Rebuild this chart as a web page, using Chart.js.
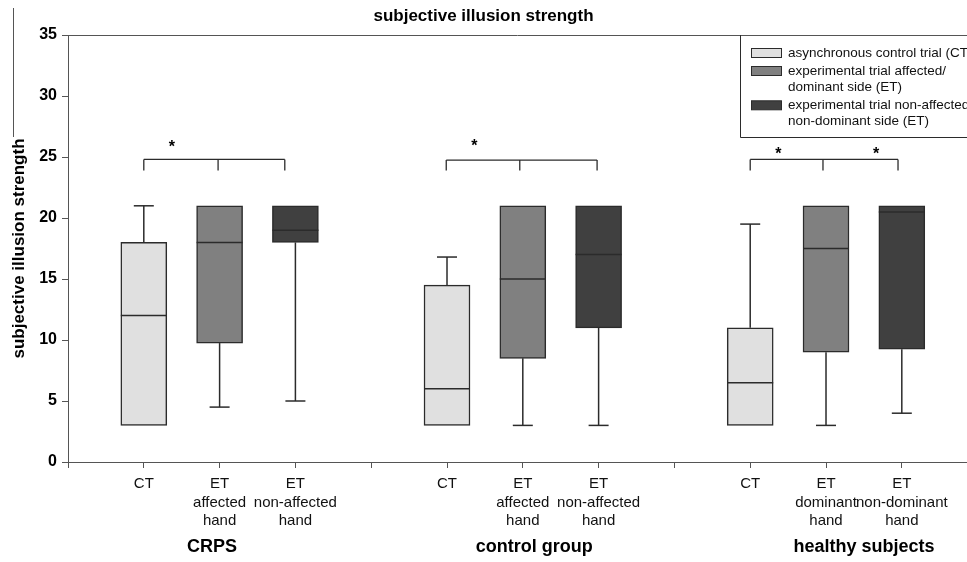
<!DOCTYPE html>
<html>
<head>
<meta charset="utf-8">
<script src="https://cdn.jsdelivr.net/npm/chart.js@4/dist/chart.umd.min.js"></script>
<style>
  html, body { margin: 0; padding: 0; background: #fff; }
  canvas { display: block; }
</style>
</head>
<body>
<canvas id="chart" width="967" height="562"></canvas>
<script>
const chartTitle = 'subjective illusion strength'
const yTitle = 'subjective illusion strength'

// x slots: 1-3 CRPS, 5-7 control group, 9-11 healthy subjects (4 and 8 are gaps)
const tickPositions = [1, 2, 3, 5, 6, 7, 9, 10, 11]
const tickLabels = [
  ['CT'], ['ET', 'affected', 'hand'], ['ET', 'non-affected', 'hand'],
  ['CT'], ['ET', 'affected', 'hand'], ['ET', 'non-affected', 'hand'],
  ['CT'], ['ET', 'dominant', 'hand'], ['ET', 'non-dominant', 'hand'],
]
const groupNames = ['CRPS', 'control group', 'healthy subjects']
const groupCenters = [1.9, 6.15, 10.5]

const seriesNames = [
  ['asynchronous control trial (CT)'],
  ['experimental trial affected/', 'dominant side (ET)'],
  ['experimental trial non-affected/', 'non-dominant side (ET)'],
]
const seriesColors = ['#e0e0e0', '#808080', '#404040']

const ctPos = [1, 5, 9]
const ctMin = [3, 3, 3]
const ctQ1 = [3, 3, 3]
const ctMedian = [12, 6, 6.5]
const ctQ3 = [18, 14.5, 11]
const ctMax = [21, 16.8, 19.5]

const etAffPos = [2, 6, 10]
const etAffMin = [4.5, 3, 3]
const etAffQ1 = [9.75, 8.5, 9]
const etAffMedian = [18, 15, 17.5]
const etAffQ3 = [21, 21, 21]
const etAffMax = [21, 21, 21]

const etNonPos = [3, 7, 11]
const etNonMin = [5, 3, 4]
const etNonQ1 = [18, 11, 9.25]
const etNonMedian = [19, 17, 20.5]
const etNonQ3 = [21, 21, 21]
const etNonMax = [21, 21, 21]

// significance brackets: [left, middle, right] x values, bar level, drop level
const bracketXs = [[1, 1.98, 2.86], [4.99, 5.96, 6.98], [9.0, 9.96, 10.95]]
const bracketLevel = [24.8, 24.75, 24.8]
const bracketDrop = 23.9
const starX = [1.37, 5.36, 9.37, 10.66]
const starY = [26.15, 26.2, 25.55, 25.55]

const series = [
  { pos: ctPos, min: ctMin, q1: ctQ1, med: ctMedian, q3: ctQ3, max: ctMax },
  { pos: etAffPos, min: etAffMin, q1: etAffQ1, med: etAffMedian, q3: etAffQ3, max: etAffMax },
  { pos: etNonPos, min: etNonMin, q1: etNonQ1, med: etNonMedian, q3: etNonQ3, max: etNonMax },
]

const INK = '#2b2b2b'
const AXIS = '#555'
const BOX_W = 46
const CAP_W = 20
const FONT = '"Liberation Sans", Arial, sans-serif'

Chart.defaults.font.family = FONT
Chart.defaults.color = '#000'

const line = (ctx, x1, y1, x2, y2) => {
  ctx.beginPath()
  ctx.moveTo(x1, y1)
  ctx.lineTo(x2, y2)
  ctx.stroke()
}

const boxOverlay = {
  id: 'boxOverlay',
  afterDatasetsDraw(chart) {
    const { ctx, scales: { x, y } } = chart
    ctx.save()
    ctx.strokeStyle = INK
    ctx.lineWidth = 1.5
    series.forEach((s) => {
      s.pos.forEach((p, i) => {
        const cx = x.getPixelForValue(p)
        if (s.max[i] > s.q3[i]) {
          line(ctx, cx, y.getPixelForValue(s.q3[i]), cx, y.getPixelForValue(s.max[i]))
          line(ctx, cx - CAP_W / 2, y.getPixelForValue(s.max[i]), cx + CAP_W / 2, y.getPixelForValue(s.max[i]))
        }
        if (s.min[i] < s.q1[i]) {
          line(ctx, cx, y.getPixelForValue(s.q1[i]), cx, y.getPixelForValue(s.min[i]))
          line(ctx, cx - CAP_W / 2, y.getPixelForValue(s.min[i]), cx + CAP_W / 2, y.getPixelForValue(s.min[i]))
        }
        const my = y.getPixelForValue(s.med[i])
        line(ctx, cx - BOX_W / 2, my, cx + BOX_W / 2, my)
      })
    })

    // significance brackets
    ctx.lineWidth = 1.3
    bracketXs.forEach((xs, i) => {
      const top = y.getPixelForValue(bracketLevel[i])
      const drop = y.getPixelForValue(bracketDrop)
      line(ctx, x.getPixelForValue(xs[0]), top, x.getPixelForValue(xs[2]), top)
      xs.forEach((v) => line(ctx, x.getPixelForValue(v), top, x.getPixelForValue(v), drop))
    })
    ctx.fillStyle = '#000'
    ctx.font = `bold 16px ${FONT}`
    ctx.textAlign = 'center'
    ctx.textBaseline = 'alphabetic'
    starX.forEach((v, i) => {
      ctx.fillText('*', x.getPixelForValue(v), y.getPixelForValue(starY[i]) + 9)
    })
    ctx.restore()
  },
  afterDraw(chart) {
    const { ctx, chartArea, scales: { x } } = chart
    ctx.save()
    // top frame line and the stray figure frame on the left
    ctx.strokeStyle = AXIS
    ctx.lineWidth = 1
    line(ctx, chartArea.left, chartArea.top + 0.5, chartArea.right, chartArea.top + 0.5)
    line(ctx, 13.5, 8, 13.5, 137)

    // group names under the tick labels
    ctx.fillStyle = '#000'
    ctx.font = `bold 18px ${FONT}`
    ctx.textAlign = 'center'
    ctx.textBaseline = 'middle'
    groupNames.forEach((g, i) => ctx.fillText(g, x.getPixelForValue(groupCenters[i]), 547))

    // legend box in the upper right corner
    const lx = 740.5
    const lb = 137.5
    ctx.strokeStyle = INK
    ctx.beginPath()
    ctx.moveTo(lx, chartArea.top)
    ctx.lineTo(lx, lb)
    ctx.lineTo(chart.width + 2, lb)
    ctx.stroke()
    ctx.font = `13.5px ${FONT}`
    ctx.textAlign = 'left'
    let rowY = 53
    seriesNames.forEach((lines, i) => {
      ctx.fillStyle = seriesColors[i]
      ctx.fillRect(751, rowY - 4.5, 30, 9)
      ctx.lineWidth = 1
      ctx.strokeRect(751.5, rowY - 4.5, 30, 9)
      ctx.fillStyle = '#111'
      lines.forEach((t) => {
        ctx.fillText(t, 788, rowY)
        rowY += 16.3
      })
      rowY += 1.7
    })
    ctx.restore()
  },
}

new Chart(document.getElementById('chart'), {
  type: 'bar',
  data: {
    datasets: series.map((s, k) => ({
      label: seriesNames[k].join(' '),
      data: s.pos.map((p, i) => ({ x: p, y: [s.q1[i], s.q3[i]] })),
      backgroundColor: seriesColors[k],
      borderColor: INK,
      borderWidth: 1.5,
      borderSkipped: false,
      barThickness: BOX_W,
      grouped: false,
    })),
  },
  options: {
    responsive: false,
    animation: false,
    events: [],
    layout: { padding: 0 },
    plugins: {
      legend: { display: false },
      tooltip: { enabled: false },
      title: {
        display: true,
        text: chartTitle,
        color: '#000',
        font: { size: 17, weight: 'bold' },
        padding: { top: 6, bottom: 8.6 },
      },
    },
    scales: {
      x: {
        type: 'linear',
        min: 0,
        max: 11.86,
        offset: false,
        afterFit: (scale) => { scale.height = 100 },
        border: { color: AXIS, width: 1 },
        grid: { offset: false, drawOnChartArea: false, drawTicks: true, tickLength: 6, color: AXIS },
        ticks: {
          stepSize: 1,
          includeBounds: false,
          autoSkip: false,
          maxRotation: 0,
          padding: 7,
          color: '#111',
          font: { size: 15, lineHeight: 1.23 },
          callback: (v) => {
            const i = tickPositions.indexOf(v)
            return i >= 0 ? tickLabels[i] : ''
          },
        },
      },
      y: {
        min: 0,
        max: 35,
        afterFit: (scale) => { scale.width = 68 },
        border: { color: AXIS, width: 1 },
        grid: { drawOnChartArea: false, drawTicks: true, tickLength: 6, color: AXIS },
        ticks: {
          stepSize: 5,
          padding: 5,
          color: '#000',
          font: { size: 16, weight: 'bold' },
        },
        title: {
          display: true,
          text: yTitle,
          color: '#000',
          font: { size: 17, weight: 'bold' },
          padding: { top: 9, bottom: 0 },
        },
      },
    },
  },
  plugins: [boxOverlay],
})
</script>
</body>
</html>
